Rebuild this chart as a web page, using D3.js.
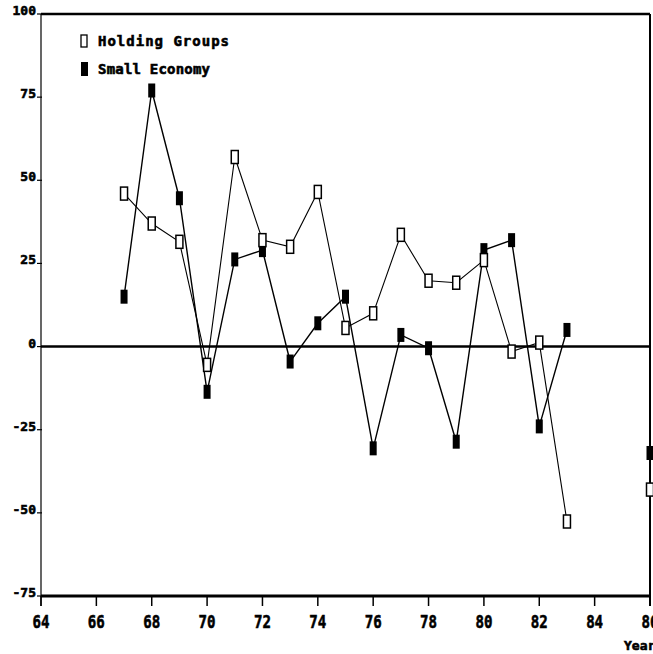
<!DOCTYPE html>
<html>
<head>
<meta charset="utf-8">
<script src="https://cdn.jsdelivr.net/npm/d3@7"></script>
<style>
  html, body { margin: 0; padding: 0; background: #fff; overflow: hidden; }
  svg { display: block; }
  text { font-family: "DejaVu Sans Mono", monospace; font-weight: bold; fill: #000; stroke: #000; stroke-width: 0.6; }
</style>
</head>
<body>
<div id="chart"></div>
<script>
// ---- data ----
const years = [67, 68, 69, 70, 71, 72, 73, 74, 75, 76, 77, 78, 79, 80, 81, 82, 83, 86];
const holdingGroups = [46, 37, 31.5, -5.5, 57, 32, 30, 46.5, 5.6, 10, 33.6, 19.8, 19.2, 26, -1.5, 1.2, -52.6, -43];
const smallEconomy = [15, 77, 44.6, -13.6, 26.2, 29, -4.5, 7, 15, -30.6, 3.5, -0.5, -28.6, 29, 32, -24, 5, -32];
const lastConnectedYear = 83;
const xTicks = [64, 66, 68, 70, 72, 74, 76, 78, 80, 82, 84, 86];
const yTicks = [100, 75, 50, 25, 0, -25, -50, -75];
const seriesNames = ["Holding Groups", "Small Economy"];

// ---- layout ----
const W = 653, H = 654;
const x = d3.scaleLinear().domain([64, 86]).range([41, 650]);
const y = d3.scaleLinear().domain([-75, 100]).range([596, 14]);

const svg = d3.select("#chart").append("svg").attr("width", W).attr("height", H);

// frame
svg.append("line").attr("x1", x(64)).attr("x2", x(86)).attr("y1", y(100)).attr("y2", y(100))
  .attr("stroke", "#000").attr("stroke-width", 2.5);
svg.append("line").attr("x1", x(64)).attr("x2", x(86)).attr("y1", y(-75)).attr("y2", y(-75))
  .attr("stroke", "#000").attr("stroke-width", 3);
svg.append("line").attr("x1", x(64)).attr("x2", x(64)).attr("y1", y(100)).attr("y2", y(-75) + 10)
  .attr("stroke", "#000").attr("stroke-width", 1.2);
svg.append("line").attr("x1", x(86)).attr("x2", x(86)).attr("y1", y(100)).attr("y2", y(-75) + 10)
  .attr("stroke", "#000").attr("stroke-width", 2);
// zero line
svg.append("line").attr("x1", x(64)).attr("x2", x(86)).attr("y1", y(0)).attr("y2", y(0))
  .attr("stroke", "#000").attr("stroke-width", 2.5);

// y ticks and labels
const yg = svg.append("g");
yTicks.forEach(t => {
  yg.append("line").attr("x1", x(64) - 4).attr("x2", x(64) + 1).attr("y1", y(t)).attr("y2", y(t))
    .attr("stroke", "#000").attr("stroke-width", 1.2);
  yg.append("text").attr("x", x(64) - 5).attr("y", y(t) + 1)
    .attr("text-anchor", "end").attr("font-size", 13).text(t);
});

// x ticks and labels
const xg = svg.append("g");
xTicks.forEach(t => {
  xg.append("line").attr("x1", x(t)).attr("x2", x(t)).attr("y1", y(-75)).attr("y2", y(-75) + 10)
    .attr("stroke", "#000").attr("stroke-width", 1.5);
  xg.append("text").attr("x", x(t)).attr("y", y(-75) + 32)
    .attr("text-anchor", "middle").attr("font-size", 18)
    .attr("textLength", 17).attr("lengthAdjust", "spacingAndGlyphs").text(t);
});
svg.append("text").attr("x", 624).attr("y", 650).attr("font-size", 13).text("Year");

// series
const rows = years.map((yr, i) => ({ year: yr, h: holdingGroups[i], s: smallEconomy[i] }));
const conn = rows.filter(d => d.year <= lastConnectedYear);

const lineH = d3.line().x(d => x(d.year)).y(d => y(d.h));
const lineS = d3.line().x(d => x(d.year)).y(d => y(d.s));

svg.append("path").datum(conn).attr("d", lineS).attr("fill", "none")
  .attr("stroke", "#000").attr("stroke-width", 1.4);
svg.append("path").datum(conn).attr("d", lineH).attr("fill", "none")
  .attr("stroke", "#000").attr("stroke-width", 1.1);

// markers: Holding Groups = open tall rect, Small Economy = filled tall rect
svg.append("g").selectAll("rect").data(rows).join("rect")
  .attr("x", d => x(d.year) - 3.5).attr("y", d => y(d.s) - 7)
  .attr("width", 7).attr("height", 14).attr("fill", "#000");
svg.append("g").selectAll("rect").data(rows).join("rect")
  .attr("x", d => x(d.year) - 3.5).attr("y", d => y(d.h) - 6.5)
  .attr("width", 7).attr("height", 13).attr("fill", "#fff")
  .attr("stroke", "#000").attr("stroke-width", 1.5);

// legend
const lg = svg.append("g");
lg.append("rect").attr("x", 81).attr("y", 35).attr("width", 6).attr("height", 12)
  .attr("fill", "#fff").attr("stroke", "#000").attr("stroke-width", 1.3);
lg.append("text").attr("x", 98).attr("y", 46).attr("font-size", 14)
  .attr("textLength", 131).attr("lengthAdjust", "spacing").text(seriesNames[0]);
lg.append("rect").attr("x", 81).attr("y", 62).attr("width", 7).attr("height", 14).attr("fill", "#000");
lg.append("text").attr("x", 98).attr("y", 74).attr("font-size", 14)
  .attr("textLength", 112).attr("lengthAdjust", "spacing").text(seriesNames[1]);
</script>
</body>
</html>
